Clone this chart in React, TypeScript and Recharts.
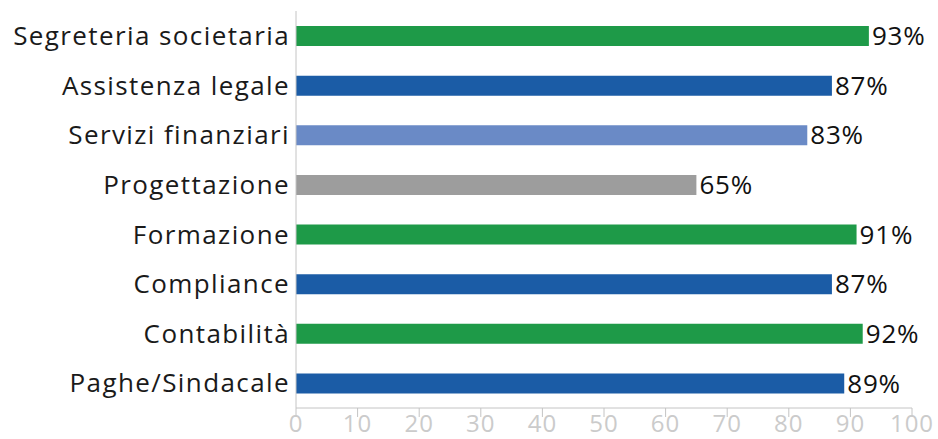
import React from "react";
import { BarChart, Bar, XAxis, YAxis, Cell, LabelList } from "recharts";

const categories = [
  "Segreteria societaria",
  "Assistenza legale",
  "Servizi finanziari",
  "Progettazione",
  "Formazione",
  "Compliance",
  "Contabilità",
  "Paghe/Sindacale",
];
const values = [93, 87, 83, 65, 91, 87, 92, 89];
const colors = ["#1e9a48", "#1b5ca6", "#6a8ac6", "#9d9d9d", "#1e9a48", "#1b5ca6", "#1e9a48", "#1b5ca6"];
const xTicks = [0, 10, 20, 30, 40, 50, 60, 70, 80, 90, 100];

const data = categories.map((c, i) => ({ name: c, value: values[i] }));

const FONT = "'Open Sans', sans-serif";

export default function App() {
  return (
    <div style={{ position: "absolute", left: 0, top: 0, background: "#fff" }}>
      <BarChart
        width={938}
        height={439}
        data={data}
        layout="vertical"
        margin={{ top: 11, right: 26, bottom: 0, left: 0 }}
        barCategoryGap={0}
      >
        <XAxis
          type="number"
          domain={[0, 100]}
          ticks={xTicks}
          interval={0}
          height={31}
          axisLine={{ stroke: "#c4c4c4" }}
          tickLine={{ stroke: "#c4c4c4" }}
          tickSize={9}
          tick={{ fill: "#cbcbcb", fontSize: 24, fontFamily: FONT, letterSpacing: 1 }}
          tickMargin={-2}
        />
        <YAxis
          type="category"
          dataKey="name"
          width={296}
          axisLine={{ stroke: "#c4c4c4" }}
          tickLine={false}
          tickMargin={0}
          interval={0}
          tick={{ fill: "#1a1a1a", fontSize: 26, fontFamily: FONT, letterSpacing: 1.4 }}
        />
        <Bar dataKey="value" barSize={20} isAnimationActive={false}>
          {data.map((d, i) => (
            <Cell key={d.name} fill={colors[i]} />
          ))}
          <LabelList
            dataKey="value"
            position="right"
            offset={3}
            formatter={(v: number) => `${v}%`}
            style={{ fill: "#111", fontSize: 26, fontFamily: FONT, letterSpacing: 0.8 }}
          />
        </Bar>
      </BarChart>
    </div>
  );
}
